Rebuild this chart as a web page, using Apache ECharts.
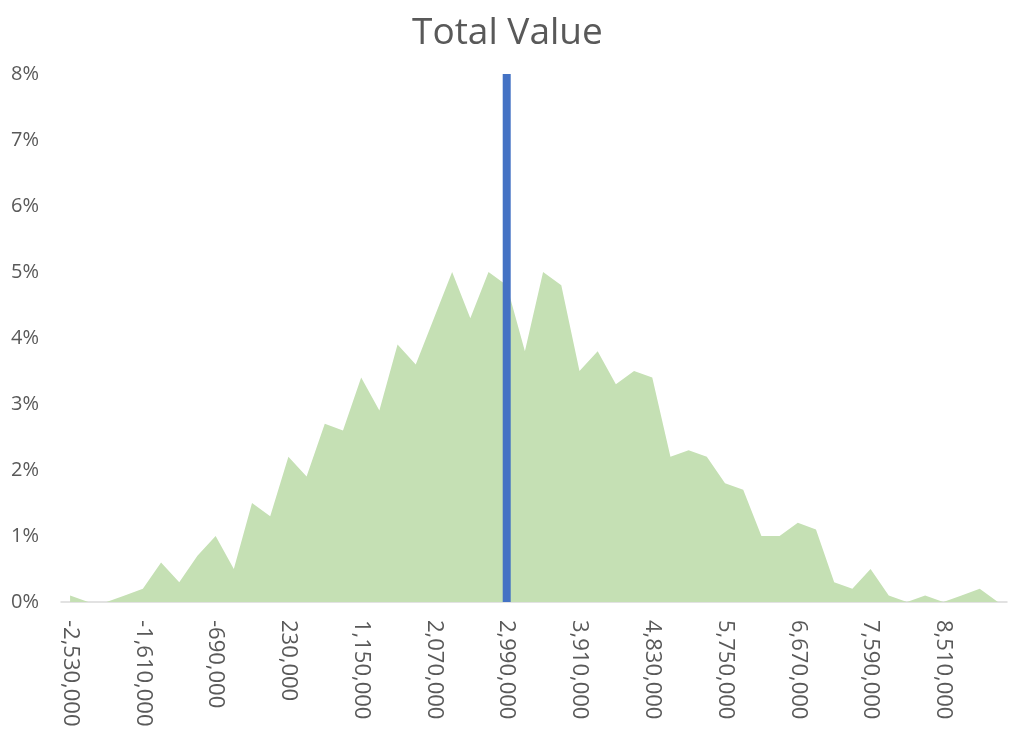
<!DOCTYPE html>
<html>
<head>
<meta charset="utf-8">
<title>Total Value</title>
<script src="https://cdn.jsdelivr.net/npm/echarts@6/dist/echarts.min.js"></script>
<style>
  html, body { margin: 0; padding: 0; background: #fff; }
  #main { width: 1022px; height: 744px; }
</style>
</head>
<body>
<div id="main"></div>
<script>
// histogram bins (lower bound of each bin)
var categories = [
  -2530000, -2300000, -2070000, -1840000, -1610000, -1380000, -1150000, -920000,
  -690000, -460000, -230000, 0, 230000, 460000, 690000, 920000,
  1150000, 1380000, 1610000, 1840000, 2070000, 2300000, 2530000, 2760000,
  2990000, 3220000, 3450000, 3680000, 3910000, 4140000, 4370000, 4600000,
  4830000, 5060000, 5290000, 5520000, 5750000, 5980000, 6210000, 6440000,
  6670000, 6900000, 7130000, 7360000, 7590000, 7820000, 8050000, 8280000,
  8510000, 8740000, 8970000, 9200000
];
// share of outcomes per bin, in %
var frequency = [
  0.1, 0.0, 0.0, 0.1, 0.2, 0.6, 0.3, 0.7, 1.0, 0.5, 1.5, 1.3, 2.2,
  1.9, 2.7, 2.6, 3.4, 2.9, 3.9, 3.6, 4.3, 5.0, 4.3, 5.0, 4.8, 3.8,
  5.0, 4.8, 3.5, 3.8, 3.3, 3.5, 3.4, 2.2, 2.3, 2.2, 1.8, 1.7, 1.0,
  1.0, 1.2, 1.1, 0.3, 0.2, 0.5, 0.1, 0.0, 0.1, 0.0, 0.1, 0.2, 0.0
];
// vertical marker
var markerCategory = 2990000;
var markerValue = 8;
var yTicks = [0, 1, 2, 3, 4, 5, 6, 7, 8];

var textColor = '#595959';
var font = 'Open Sans';

var chartDom = document.getElementById('main');
var myChart = echarts.init(chartDom);

var markerData = categories.map(function (c) {
  return c === markerCategory ? markerValue : null;
});

var option = {
  animation: false,
  textStyle: { fontFamily: font },
  title: {
    text: 'Total Value',
    left: 407,
    top: 10,
    textStyle: {
      fontFamily: font,
      fontSize: 37,
      fontWeight: 'normal',
      color: textColor
    }
  },
  grid: {
    left: 61,
    right: 15,
    top: 74,
    bottom: 142,
    containLabel: false
  },
  xAxis: {
    type: 'category',
    boundaryGap: true,
    data: categories.map(String),
    axisLine: { lineStyle: { color: '#d9d9d9', width: 1.5 } },
    axisTick: {
      interval: 0,
      length: 6,
      lineStyle: { color: '#d9d9d9', width: 1.5 }
    },
    axisLabel: {
      interval: 3,
      rotate: -90,
      margin: 18,
      fontSize: 22,
      fontFamily: font,
      color: textColor,
      formatter: function (v) {
        return Number(v).toLocaleString('en-US');
      }
    },
    splitLine: { show: false }
  },
  yAxis: {
    type: 'value',
    min: yTicks[0],
    max: yTicks[yTicks.length - 1],
    interval: 1,
    axisLine: { show: false },
    axisTick: { show: false },
    splitLine: { show: false },
    axisLabel: {
      margin: 22,
      fontSize: 20,
      fontFamily: font,
      color: textColor,
      formatter: '{value}%'
    }
  },
  series: [
    {
      name: 'Frequency',
      type: 'line',
      data: frequency,
      symbol: 'none',
      lineStyle: { width: 0 },
      itemStyle: { color: '#c5e0b4' },
      areaStyle: { color: '#c5e0b4', opacity: 1 },
      z: 2
    },
    {
      name: 'Marker',
      type: 'bar',
      data: markerData,
      barWidth: 8,
      itemStyle: { color: '#4472c4' },
      z: 3
    }
  ]
};

option && myChart.setOption(option);
window.onresize = function () {
  myChart.resize();
};
</script>
</body>
</html>
